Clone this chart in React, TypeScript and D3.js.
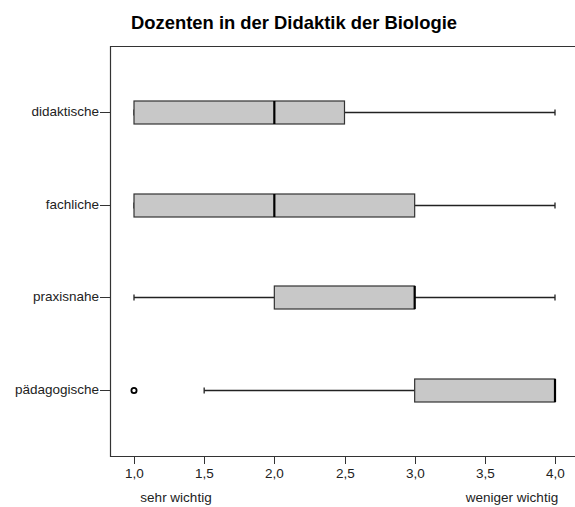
import { useEffect, useRef } from 'react';
import * as d3 from 'd3';

// categories top to bottom
const categories = ['didaktische', 'fachliche', 'praxisnahe', 'pädagogische'];
// five-number summaries
const whiskerLow = [1, 1, 1, 1.5];
const q1 = [1, 1, 2, 3];
const median = [2, 2, 3, 4];
const q3 = [2.5, 3, 3, 4];
const whiskerHigh = [4, 4, 4, 4];
// outliers: [category index, value]
const outliers: [number, number][] = [[3, 1]];
const xTicks = [1, 1.5, 2, 2.5, 3, 3.5, 4];

export default function App() {
  const svgRef = useRef<SVGSVGElement>(null);

  useEffect(() => {
    if (!svgRef.current) return;
    const svg = d3.select(svgRef.current);
    svg.selectAll('*').remove();

    const width = 575;
    const height = 507;
    const left = 110;
    const top = 46;
    const bottom = 456;

    const font = 'Liberation Sans, Arial, sans-serif';
    const textColor = '#222';
    const fs = '13.5px';

    const x = d3.scaleLinear().domain([1, 4]).range([134, 555]);
    const y = d3.scalePoint<string>().domain(categories).range([top, bottom]).padding(0.72);
    const boxH = 23;

    svg.append('rect').attr('width', width).attr('height', height).attr('fill', '#fff');

    // Title
    svg.append('text')
      .attr('x', 294)
      .attr('y', 29)
      .attr('text-anchor', 'middle')
      .attr('font-family', font)
      .attr('font-size', '18.4px')
      .attr('font-weight', 'bold')
      .attr('fill', '#000')
      .text('Dozenten in der Didaktik der Biologie');

    // Frame (open on the right)
    svg.append('path')
      .attr('d', `M${width},${top + 0.5}H${left + 0.5}V${bottom + 0.5}H${width}`)
      .attr('fill', 'none')
      .attr('stroke', '#333')
      .attr('stroke-width', 1.2);

    // Y ticks and labels
    categories.forEach((c) => {
      const cy = Math.round(y(c)!) + 0.5;
      svg.append('line')
        .attr('x1', left - 10).attr('x2', left)
        .attr('y1', cy).attr('y2', cy)
        .attr('stroke', '#333');
      svg.append('text')
        .attr('x', left - 11)
        .attr('y', cy)
        .attr('text-anchor', 'end')
        .attr('dominant-baseline', 'middle')
        .attr('font-family', font)
        .attr('font-size', fs)
        .attr('fill', textColor)
        .text(c);
    });

    // X ticks and labels
    xTicks.forEach((t) => {
      const tx = Math.round(x(t)) + 0.5;
      svg.append('line')
        .attr('x1', tx).attr('x2', tx)
        .attr('y1', bottom).attr('y2', bottom + 8)
        .attr('stroke', '#333');
      svg.append('text')
        .attr('x', tx)
        .attr('y', bottom + 22)
        .attr('text-anchor', 'middle')
        .attr('font-family', font)
        .attr('font-size', fs)
        .attr('fill', textColor)
        .text(d3.format('.1f')(t).replace('.', ','));
    });

    svg.append('text')
      .attr('x', 176)
      .attr('y', bottom + 46)
      .attr('text-anchor', 'middle')
      .attr('font-family', font)
      .attr('font-size', fs)
      .attr('fill', textColor)
      .text('sehr wichtig');
    svg.append('text')
      .attr('x', 512)
      .attr('y', bottom + 46)
      .attr('text-anchor', 'middle')
      .attr('font-family', font)
      .attr('font-size', fs)
      .attr('fill', textColor)
      .text('weniger wichtig');

    // Boxes
    categories.forEach((c, i) => {
      const cy = Math.round(y(c)!) + 0.5;
      // whiskers
      svg.append('line')
        .attr('x1', x(whiskerLow[i])).attr('x2', x(q1[i]))
        .attr('y1', cy).attr('y2', cy)
        .attr('stroke', '#222').attr('stroke-width', 1.3);
      svg.append('line')
        .attr('x1', x(q3[i])).attr('x2', x(whiskerHigh[i]))
        .attr('y1', cy).attr('y2', cy)
        .attr('stroke', '#222').attr('stroke-width', 1.3);
      [whiskerLow[i], whiskerHigh[i]].forEach((v) => {
        svg.append('line')
          .attr('x1', x(v)).attr('x2', x(v))
          .attr('y1', cy - 3).attr('y2', cy + 3)
          .attr('stroke', '#222').attr('stroke-width', 1.3);
      });
      // box
      svg.append('rect')
        .attr('x', x(q1[i]))
        .attr('y', cy - boxH / 2)
        .attr('width', Math.max(0, x(q3[i]) - x(q1[i])))
        .attr('height', boxH)
        .attr('fill', '#c8c8c8')
        .attr('stroke', '#333')
        .attr('stroke-width', 1.2);
      // median
      svg.append('line')
        .attr('x1', x(median[i])).attr('x2', x(median[i]))
        .attr('y1', cy - boxH / 2).attr('y2', cy + boxH / 2)
        .attr('stroke', '#000')
        .attr('stroke-width', 2.2);
    });

    // Outliers
    outliers.forEach(([ci, v]) => {
      svg.append('circle')
        .attr('cx', x(v))
        .attr('cy', Math.round(y(categories[ci])!) + 0.5)
        .attr('r', 2.6)
        .attr('fill', '#fff')
        .attr('stroke', '#000')
        .attr('stroke-width', 1.8);
    });
  }, []);

  return (
    <div style={{ position: 'absolute', left: 0, top: 0 }}>
      <svg ref={svgRef} width={575} height={507} style={{ display: 'block' }} />
    </div>
  );
}
